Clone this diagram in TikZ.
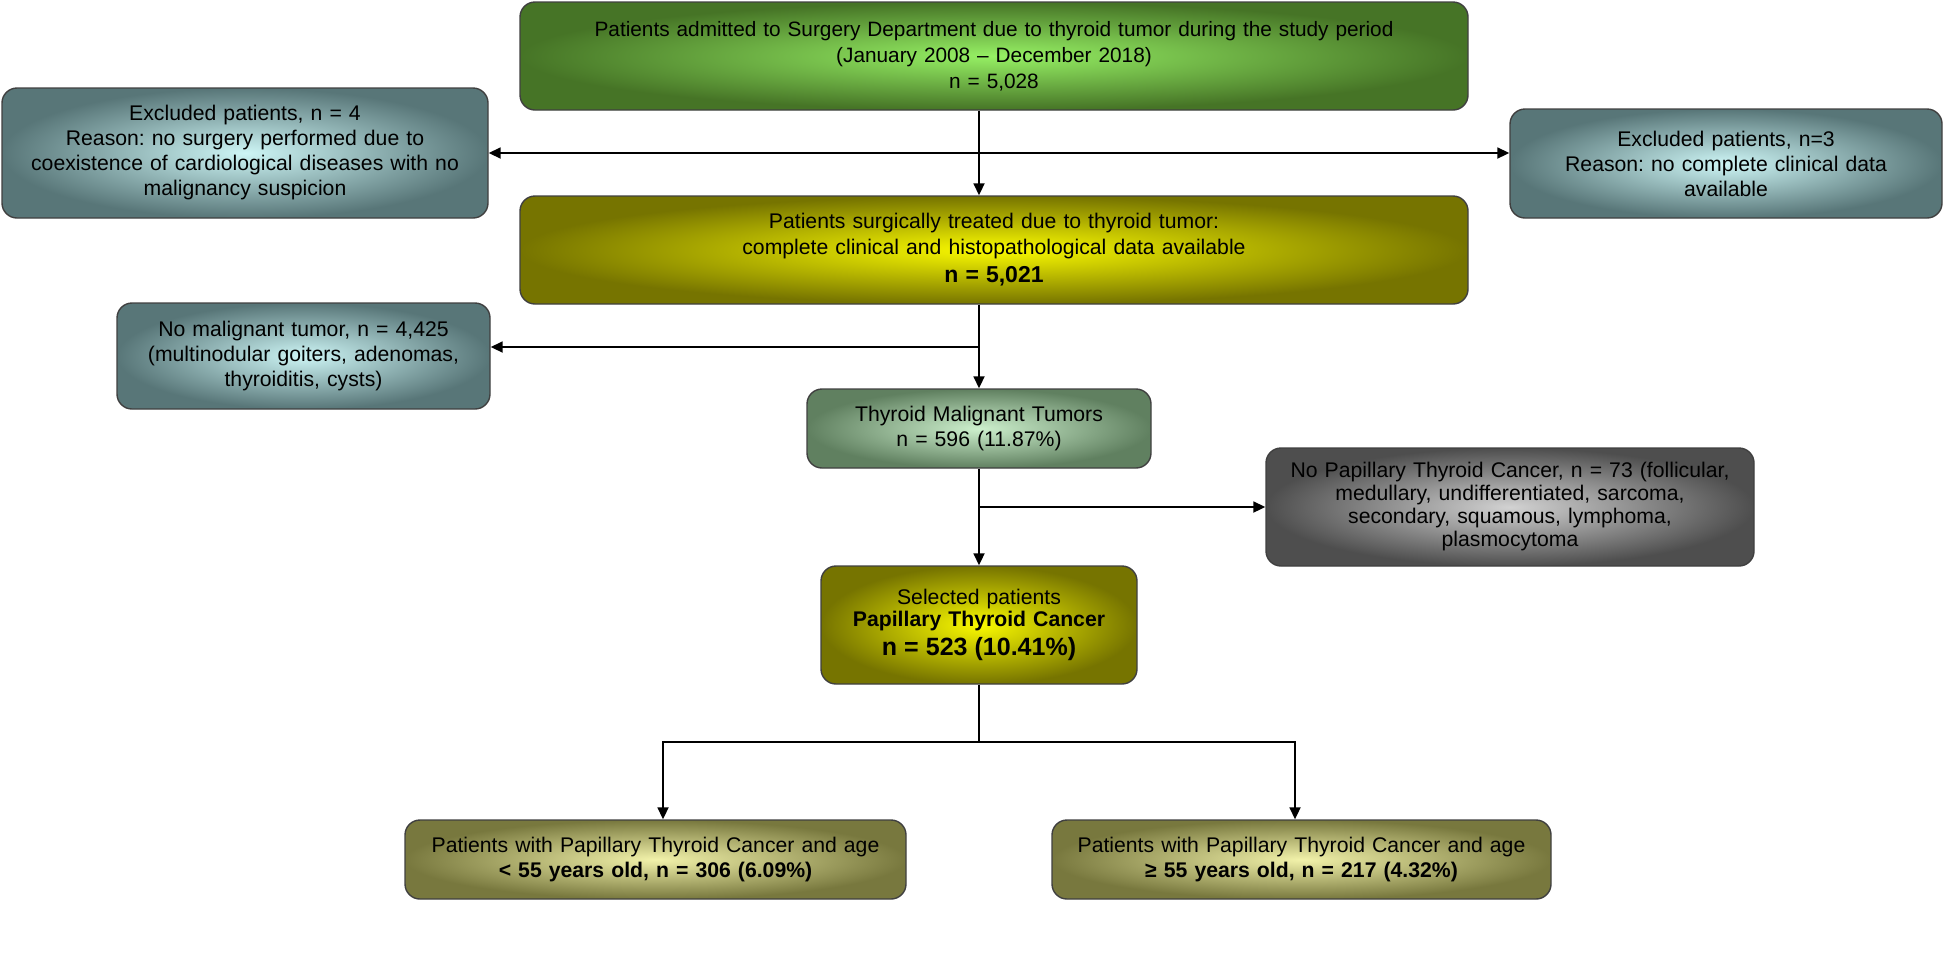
\documentclass[tikz,border=0pt]{standalone}
\usepackage{fontspec}
\setmainfont{Liberation Sans}
\usetikzlibrary{arrows.meta}
\frenchspacing

\definecolor{grnout}{RGB}{70,116,38}
\definecolor{grnin}{RGB}{150,240,100}
\definecolor{yelout}{RGB}{118,116,0}
\definecolor{yelin}{RGB}{250,250,0}
\definecolor{tealout}{RGB}{88,118,120}
\definecolor{tealin}{RGB}{205,245,245}
\definecolor{mgout}{RGB}{96,128,96}
\definecolor{mgin}{RGB}{205,240,205}
\definecolor{gryout}{RGB}{78,78,78}
\definecolor{gryin}{RGB}{210,210,210}
\definecolor{olvout}{RGB}{120,120,62}
\definecolor{olvin}{RGB}{242,242,170}

\begin{document}
\begin{tikzpicture}[x=0.5pt,y=-0.5pt,
  box/.style={rounded corners=7.5pt, draw=black!75, line width=0.7pt, align=center,
    inner sep=0pt, font=\fontsize{10.6}{12.5}\selectfont},
  greenbox/.style={box, inner color=grnin, outer color=grnout},
  yelbox/.style={box, inner color=yelin, outer color=yelout},
  tealbox/.style={box, inner color=tealin, outer color=tealout},
  malbox/.style={box, inner color=mgin, outer color=mgout},
  greybox/.style={box, inner color=gryin, outer color=gryout},
  agebox/.style={box, inner color=olvin, outer color=olvout},
  arr/.style={-{Triangle[length=6pt,width=5.5pt]}, line width=0.9pt}]
\useasboundingbox (0,0) rectangle (1946,955);

% boxes
\node[greenbox, text width=474pt, minimum height=54pt, font=\fontsize{10.4}{13}\selectfont] (adm) at (994,56)
  {Patients admitted to Surgery Department due to thyroid tumor during the study period\\
   (January 2008 -- December 2018)\\ n = 5,028};
\node[tealbox, text width=243pt, minimum height=65pt] (exfour) at (245,153)
  {Excluded patients, n = 4\\ Reason: no surgery performed due to\\
   coexistence of cardiological diseases with no\\ malignancy suspicion};
\node[tealbox, text width=216pt, minimum height=54.5pt] (exthree) at (1726,163.5)
  {Excluded patients, n=3\\ Reason: no complete clinical data\\ available};
\node[yelbox, text width=474pt, minimum height=54pt, font=\fontsize{10.6}{13}\selectfont] (treat) at (994,250)
  {Patients surgically treated due to thyroid tumor:\\
   complete clinical and histopathological data available\\[1pt]
   {\fontsize{11.5}{13}\selectfont\textbf{n = 5,021}}};
\node[tealbox, text width=186.5pt, minimum height=53pt] (benign) at (303.5,356)
  {No malignant tumor, n = 4,425\\ (multinodular goiters, adenomas,\\ thyroiditis, cysts)};
\node[malbox, text width=172pt, minimum height=39.5pt] (malig) at (979,428.5)
  {Thyroid Malignant Tumors\\ n = 596 (11.87\%)};
\node[greybox, text width=244pt, minimum height=59pt, font=\fontsize{10.6}{11.5}\selectfont] (nopap) at (1510,507)
  {No Papillary Thyroid Cancer, n = 73 (follicular,\\ medullary, undifferentiated, sarcoma,\\
   secondary, squamous, lymphoma,\\ plasmocytoma};
\node[yelbox, text width=158pt, minimum height=59pt, font=\fontsize{10.6}{11}\selectfont] (ptc) at (979,625)
  {Selected patients\\ \textbf{Papillary Thyroid Cancer}\\[2pt]
   {\fontsize{12.5}{14}\selectfont\textbf{n = 523 (10.41\%)}}\\[5pt]};
\node[agebox, text width=250.5pt, minimum height=39.5pt] (young) at (655.5,859.5)
  {Patients with Papillary Thyroid Cancer and age\\ \textbf{< 55 years old, n = 306 (6.09\%)}};
\node[agebox, text width=249.5pt, minimum height=39.5pt] (old) at (1301.5,859.5)
  {Patients with Papillary Thyroid Cancer and age\\ \textbf{≥ 55 years old, n = 217 (4.32\%)}};

% connectors
\coordinate (s1) at (979,153);
\coordinate (s2) at (979,347);
\coordinate (s3) at (979,507);
\coordinate (fork) at (979,742);
\draw[arr] (adm.south -| s1) -- (treat.north -| s1);
\draw[arr] (s1) -- (exfour.east |- s1);
\draw[arr] (s1) -- (exthree.west |- s1);
\draw[arr] (treat.south -| s2) -- (malig.north);
\draw[arr] (s2) -- (benign.east |- s2);
\draw[arr] (malig) -- (ptc);
\draw[arr] (s3) -- (nopap.west);
\draw[line width=0.9pt] (ptc) -- (fork);
\draw[arr] (fork) -| ([xshift=3.75pt]young.north);
\draw[arr] (fork) -| ([xshift=-3.25pt]old.north);
\end{tikzpicture}
\end{document}
